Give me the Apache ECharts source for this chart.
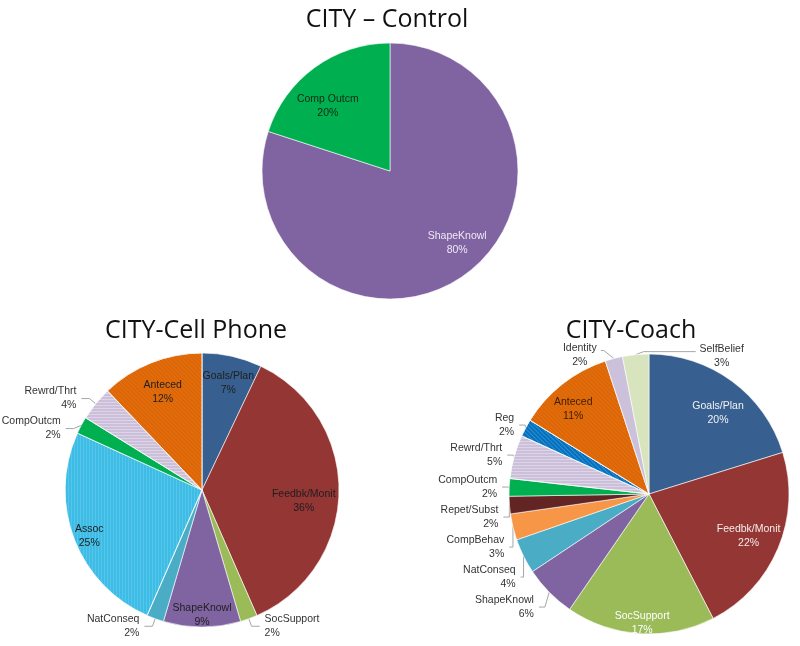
<!DOCTYPE html>
<html><head><meta charset="utf-8">
<script src="https://cdn.jsdelivr.net/npm/echarts@6/dist/echarts.min.js"></script>
<style>html,body{margin:0;padding:0;background:#fff}#c{width:800px;height:646px}</style>
</head><body><div id="c"></div>
<script>
// ---- data ----
const controlNames = ['ShapeKnowl', 'Comp Outcm'];
const controlValues = [80, 20];

const phoneNames = ['Goals/Plan', 'Feedbk/Monit', 'SocSupport', 'ShapeKnowl', 'NatConseq', 'Assoc', 'CompOutcm', 'Rewrd/Thrt', 'Anteced'];
const phoneValues = [7, 36, 2, 9, 2, 25, 2, 4, 12];

const coachNames = ['Goals/Plan', 'Feedbk/Monit', 'SocSupport', 'ShapeKnowl', 'NatConseq', 'CompBehav', 'Repet/Subst', 'CompOutcm', 'Rewrd/Thrt', 'Reg', 'Anteced', 'Identity', 'SelfBelief'];
const coachValues = [20, 22, 17, 6, 4, 3, 2, 2, 5, 2, 11, 2, 3];

// ---- styles ----
const colorOf = {
  'Goals/Plan': '#375F8F', 'Feedbk/Monit': '#943634', 'SocSupport': '#9BBB59', 'ShapeKnowl': '#8064A2',
  'NatConseq': '#4BACC6', 'Assoc': '#3DBDE6', 'CompOutcm': '#00B050', 'Comp Outcm': '#00B050',
  'Rewrd/Thrt': '#CBBFDA', 'Anteced': '#E36C0A', 'CompBehav': '#F79646', 'Repet/Subst': '#632523',
  'Reg': '#0070C0', 'Identity': '#CCC1DA', 'SelfBelief': '#D7E4BD'
};
const phoneOutside = ['SocSupport', 'NatConseq', 'CompOutcm', 'Rewrd/Thrt'];
const coachInside = ['Goals/Plan', 'Feedbk/Monit', 'SocSupport', 'Anteced'];
const phoneInsideText = { };
const coachInsideText = { 'Goals/Plan': '#F2F2F2', 'Feedbk/Monit': '#F5ECEC', 'SocSupport': '#FFFFFF', 'Anteced': '#3A1E05' };
const controlInsideText = { 'ShapeKnowl': '#EEE8F5', 'Comp Outcm': '#0E2A12' };
const decalOf = {
  'Assoc': { symbol: 'rect', symbolSize: 1, dashArrayX: [1, 0], dashArrayY: [1, 2], rotation: Math.PI / 2, color: 'rgba(255,255,255,0.12)' },
  'Rewrd/Thrt': { symbol: 'rect', symbolSize: 1, dashArrayX: [1, 0], dashArrayY: [1, 2], rotation: 0, color: 'rgba(255,255,255,0.35)' },
  'Anteced': { symbol: 'rect', symbolSize: 1, dashArrayX: [1, 0], dashArrayY: [1, 2], rotation: Math.PI / 4, color: 'rgba(160,60,0,0.18)' },
  'Reg': { symbol: 'rect', symbolSize: 1, dashArrayX: [1, 0], dashArrayY: [1, 2], rotation: Math.PI / 4, color: 'rgba(255,255,255,0.2)' }
};
// small best-fit nudges of inside labels (label offsets, in px)
const controlNudge = { 'Comp Outcm': [-4, 15], 'ShapeKnowl': [9, -8] };
const phoneNudge = { 'ShapeKnowl': [0, 19], 'Feedbk/Monit': [-4, 9], 'Assoc': [-14, 8], 'Goals/Plan': [3, -4] };
const coachNudge = { 'SocSupport': [0, 21], 'Goals/Plan': [5, 6], 'Anteced': [-9, 0] };

const font = 'Liberation Sans';

function makePie(names, values, center, r, isOutside, insideText, useDecal, lineLen, nudge, extraLayout) {
  const shapes = {
    type: 'pie', center: center, radius: r, startAngle: 90, clockwise: true, silent: true,
    label: { show: false }, labelLine: { show: false },
    itemStyle: { borderColor: '#FFFFFF', borderWidth: 0.6 },
    data: names.map((n, i) => {
      const it = { name: n, value: values[i], itemStyle: { color: colorOf[n] } };
      if (useDecal && decalOf[n]) it.itemStyle.decal = decalOf[n];
      return it;
    })
  };
  const labels = {
    type: 'pie', center: center, radius: [r * 0.5, r], startAngle: 90, clockwise: true, silent: true,
    avoidLabelOverlap: true,
    itemStyle: { color: 'rgba(0,0,0,0)' },
    label: { fontFamily: font, fontSize: 10.5, lineHeight: 14, formatter: '{b}\n{c}%', color: '#333333', overflow: 'none' },
    labelLine: { length: lineLen[0], length2: lineLen[1], lineStyle: { color: '#A6A6A6', width: 1 } },
    data: names.map((n, i) => {
      const out = isOutside(n);
      return {
        name: n, value: values[i],
        label: out ? { position: 'outside', color: '#333333' } : { position: 'inside', color: insideText[n] || '#1E1E1E' },
        labelLine: { show: out }
      };
    }),
    labelLayout: function (p) {
      const n = names[p.dataIndex];
      if (extraLayout) {
        const res = extraLayout(n, p);
        if (res) return res;
      }
      if (nudge[n]) return { dx: nudge[n][0], dy: nudge[n][1] };
      return {};
    }
  };
  return [shapes, labels];
}

// Coach: place the two top labels on either side of the top slices, relative to the slice edge point
function coachLayout(n, p) {
  const pts = p.labelLinePoints;
  if (!pts) return null;
  const p0 = pts[0];
  if (n === 'SelfBelief') {
    return { x: p0[0] + 86, y: p0[1] + 1, align: 'center', verticalAlign: 'middle',
             labelLinePoints: [[p0[0], p0[1]], [p0[0] + 8, p0[1] - 3], [p0[0] + 60, p0[1] - 3]] };
  }
  if (n === 'Identity') {
    return { x: p0[0] - 34, y: p0[1] - 3, align: 'center', verticalAlign: 'middle',
             labelLinePoints: [[p0[0], p0[1]], [p0[0] - 10, p0[1] - 8], [p0[0] - 13, p0[1] - 8]] };
  }
  return null;
}

const titleStyle = { fontFamily: 'Open Sans', fontSize: 25, fontWeight: 'normal', color: '#111111' };

const chart = echarts.init(document.getElementById('c'), null, { renderer: 'canvas' });
chart.setOption({
  backgroundColor: '#FFFFFF',
  animation: false,
  title: [
    { text: 'CITY – Control', left: 387, top: 7, padding: 0, textAlign: 'center', textStyle: titleStyle },
    { text: 'CITY-Cell Phone', left: 196, top: 318, padding: 0, textAlign: 'center', textStyle: titleStyle },
    { text: 'CITY-Coach', left: 631, top: 318, padding: 0, textAlign: 'center', textStyle: titleStyle }
  ],
  series: [
    ...makePie(controlNames, controlValues, [390, 171], 128, n => false, controlInsideText, false, [10, 10], controlNudge, null),
    ...makePie(phoneNames, phoneValues, [202, 490], 137, n => phoneOutside.includes(n), phoneInsideText, true, [8, 8], phoneNudge, null),
    ...makePie(coachNames, coachValues, [649, 494], 140, n => !coachInside.includes(n), coachInsideText, true, [6, 6], coachNudge, coachLayout)
  ]
});
</script>
</body></html>
